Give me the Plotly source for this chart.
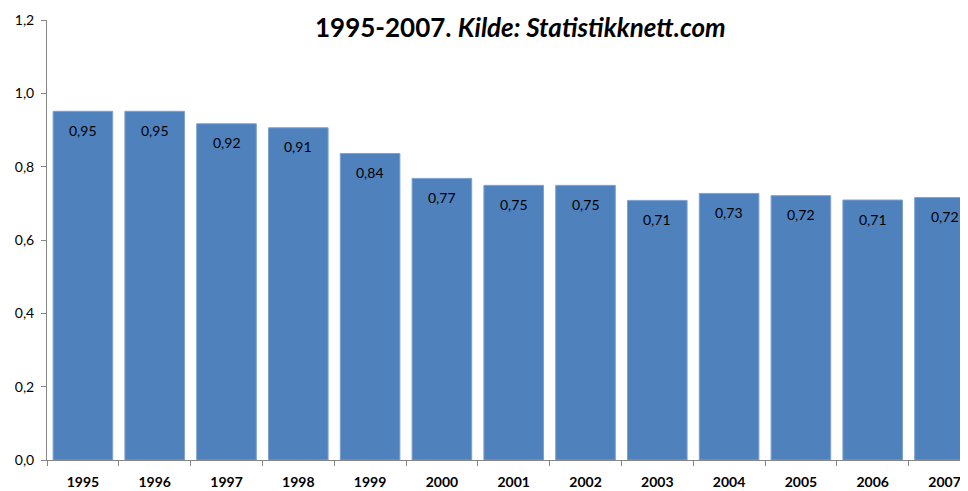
import plotly.graph_objects as go

years = ["1995", "1996", "1997", "1998", "1999", "2000", "2001",
         "2002", "2003", "2004", "2005", "2006", "2007"]
values = [0.951, 0.951, 0.917, 0.906, 0.836, 0.768, 0.749,
          0.749, 0.708, 0.727, 0.721, 0.709, 0.716]
y_ticks = [0.0, 0.2, 0.4, 0.6, 0.8, 1.0, 1.2]

FONT = "Lato, Carlito, sans-serif"

fig = go.Figure(go.Bar(
    x=years, y=values,
    marker=dict(color="#4F81BD", line=dict(color="#7EA1CF", width=1)),
    cliponaxis=True,
    hoverinfo="x+y",
))

# page body has an 8px default margin, so the figure is 8px smaller
W, H = 960, 483
L, R, T, B = 39, 0, 12, 31
cat_w = 71.8
x_end = -0.5 + (W - L - R) / cat_w

label_annots = [
    dict(x=i, y=v, xref="x", yref="y", text=f"{v:.2f}".replace(".", ","),
         showarrow=False, yshift=-19, xanchor="center", yanchor="middle",
         font=dict(family=FONT, size=14, color="black"))
    for i, v in enumerate(values)
]

fig.update_layout(
    width=W, height=H,
    margin=dict(l=L, r=R, t=T, b=B, autoexpand=False),
    plot_bgcolor="white", paper_bgcolor="white",
    separators=", ",
    bargap=0.17,
    showlegend=False,
    font=dict(family=FONT, color="black"),
    xaxis=dict(
        type="category", range=[-0.5, x_end], automargin=False,
        showline=True, linecolor="#868686", linewidth=1,
        ticks="outside", tickson="boundaries", ticklen=5, tickcolor="#868686",
        ticklabelstandoff=9,
        tickfont=dict(family=FONT, size=14, color="black", weight="bold"),
        showgrid=False, zeroline=False,
    ),
    yaxis=dict(
        range=[0, 1.2], tickvals=y_ticks, tickformat=".1f", automargin=False,
        showline=True, linecolor="#868686", linewidth=1,
        ticks="outside", ticklen=5, tickcolor="#868686",
        ticklabelstandoff=4,
        tickfont=dict(family=FONT, size=14, color="black"),
        showgrid=False, zeroline=False,
    ),
    annotations=label_annots + [dict(
        text="<b>1995-2007. <i>Kilde: Statistikknett.com</i></b>",
        xref="paper", yref="paper",
        x=(512 - L) / (W - L - R), y=1 - (19 - T) / (H - T - B),
        xanchor="center", yanchor="middle", showarrow=False,
        font=dict(family=FONT, size=26, color="black"),
    )],
)

fig.write_html("out.html")
